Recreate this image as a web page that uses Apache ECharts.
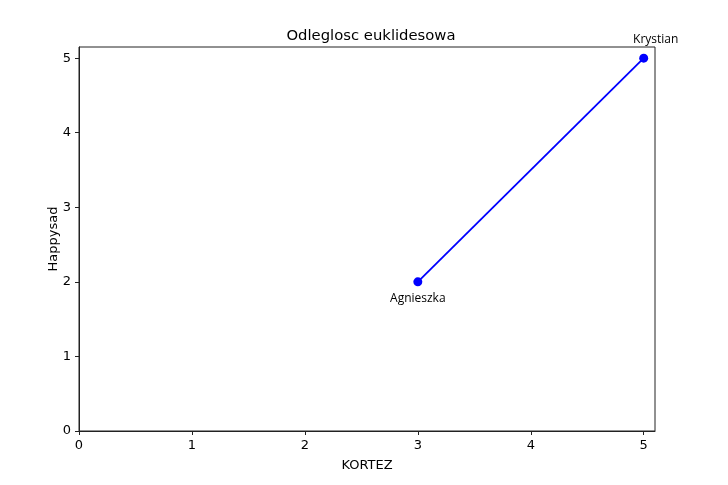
<!DOCTYPE html>
<html><head><meta charset="utf-8">
<script src="https://cdn.jsdelivr.net/npm/echarts@6/dist/echarts.min.js"></script>
<style>html,body{margin:0;padding:0;background:#fff}#c{width:728px;height:485px}</style>
</head><body><div id="c"></div>
<script>
const names = ['Agnieszka', 'Krystian'];
const xValues = [3, 5];
const yValues = [2, 5];
const tickValues = [0, 1, 2, 3, 4, 5];

const labelCfg = [
  {position: 'bottom', distance: 6, offset: [0, 0]},
  {position: 'top', distance: 8, offset: [12, 0]}
];
const data = names.map((n, i) => ({
  name: n,
  value: [xValues[i], yValues[i]],
  label: labelCfg[i]
}));

const chart = echarts.init(document.getElementById('c'), null, {renderer: 'canvas'});
const axisCommon = {
  type: 'value',
  splitLine: {show: false},
  axisLine: {show: true, onZero: false, lineStyle: {color: '#222', width: 1}},
  axisTick: {show: true, inside: false, length: 4, lineStyle: {color: '#222'}, customValues: tickValues},
  axisLabel: {color: '#000', fontSize: 13, fontFamily: 'DejaVu Sans', customValues: tickValues},
  nameLocation: 'middle',
  nameMoveOverlap: false,
  nameTextStyle: {color: '#000', fontSize: 13, fontFamily: 'DejaVu Sans'}
};
chart.setOption({
  animation: false,
  backgroundColor: '#fff',
  title: {
    text: 'Odleglosc euklidesowa', left: 366, top: 24, textAlign: 'center',
    textStyle: {fontSize: 14.8, fontWeight: 'normal', color: '#000', fontFamily: 'DejaVu Sans'}
  },
  grid: {left: 79, top: 47, right: 73, bottom: 54, show: true, borderColor: '#222', borderWidth: 1, containLabel: false},
  xAxis: Object.assign({}, axisCommon, {min: 0, max: 5.1, name: 'KORTEZ', nameGap: 28,
    axisLabel: Object.assign({}, axisCommon.axisLabel, {margin: 8})}),
  yAxis: Object.assign({}, axisCommon, {min: 0, max: 5.15, name: 'Happysad', nameGap: 19,
    axisLabel: Object.assign({}, axisCommon.axisLabel, {margin: 8})}),
  series: [{
    type: 'line',
    data: data,
    symbol: 'circle',
    symbolSize: 9,
    lineStyle: {color: '#0000ff', width: 1.8},
    itemStyle: {color: '#0000ff'},
    label: {show: true, formatter: p => p.name, color: '#000', fontSize: 12, fontFamily: 'Open Sans'}
  }]
});
</script></body></html>
